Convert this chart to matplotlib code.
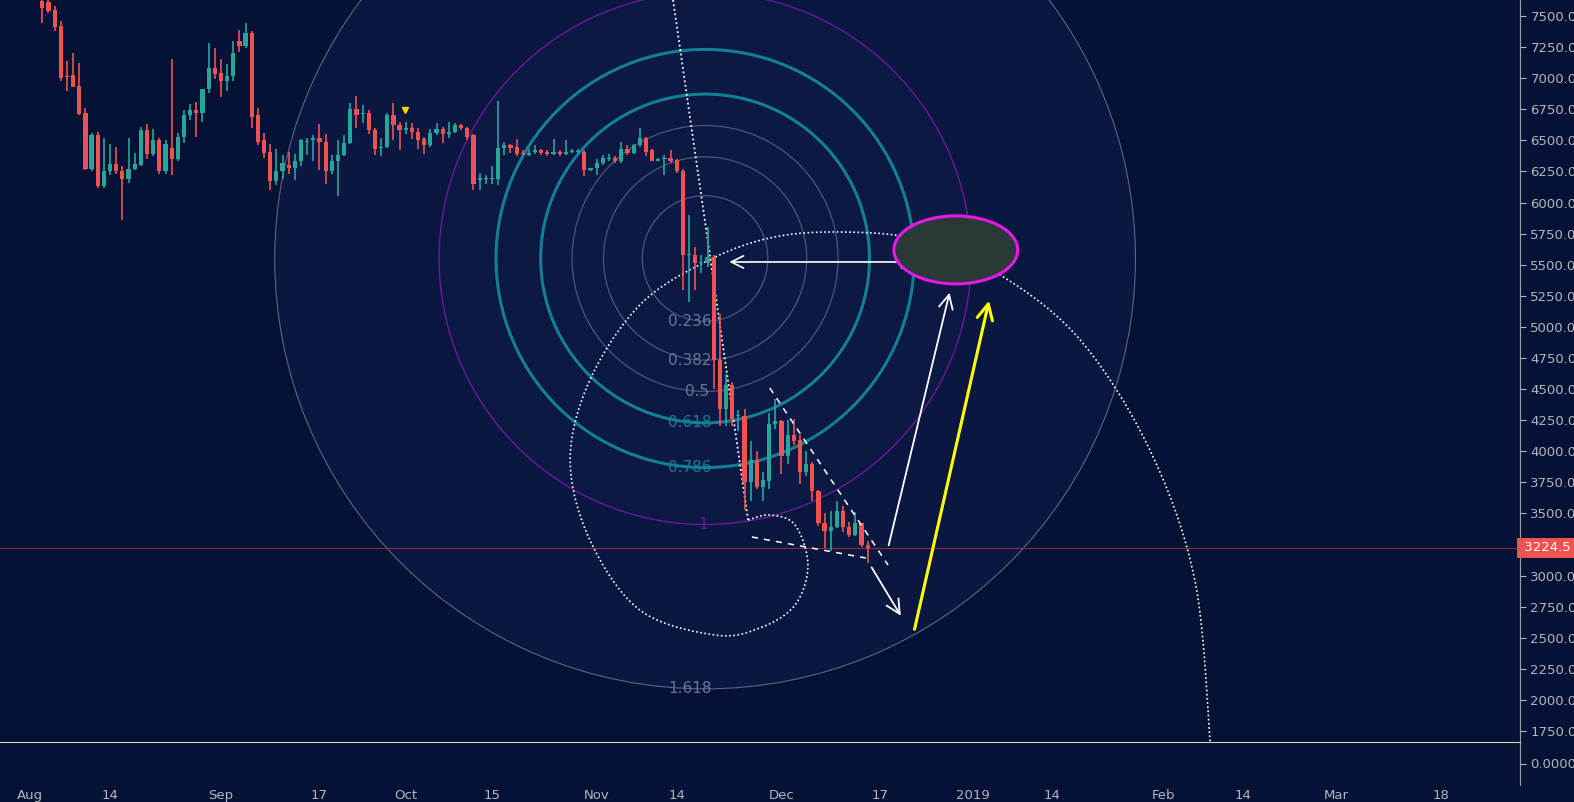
import numpy as np
import matplotlib
matplotlib.use("Agg")
import matplotlib.pyplot as plt
import matplotlib.dates as mdates
from matplotlib.patches import Ellipse
from datetime import datetime, timedelta

# ---------------- data ----------------
ohlc = [
(7620,7640,7440,7560),(7610,7640,7520,7540),(7550,7580,7380,7410),(7420,7460,6980,7000),
(7020,7140,6900,7010),(7025,7200,6930,6930),(6940,7120,6700,6710),(6720,6760,6260,6270),
(6270,6560,6250,6540),(6540,6570,6120,6130),(6130,6520,6120,6250),(6250,6470,6220,6310),
(6310,6450,6230,6250),(6250,6290,5860,6190),(6190,6520,6160,6270),(6270,6400,6260,6310),
(6300,6610,6290,6580),(6580,6630,6350,6390),(6390,6590,6370,6500),(6500,6520,6230,6250),
(6250,6500,6230,6470),(6440,7150,6220,6350),(6350,6560,6330,6530),(6530,6740,6480,6700),
(6700,6790,6660,6740),(6740,6810,6530,6720),(6720,6850,6650,6910),(6910,7280,6880,7080),
(7080,7240,6990,7030),(7040,7150,6850,6980),(6980,7110,6900,7020),(7020,7300,6980,7200),
(7300,7390,7210,7260),(7260,7440,7240,7360),(7360,7380,6600,6690),
(6700,6760,6460,6490),(6500,6560,6360,6400),(6410,6470,6100,6170),(6170,6430,6140,6250),
(6250,6380,6190,6320),(6300,6410,6230,6280),(6280,6390,6180,6330),(6330,6510,6290,6500),
(6490,6520,6380,6490),(6500,6540,6330,6520),(6520,6630,6260,6490),(6490,6550,6150,6250),
(6250,6380,6230,6330),(6330,6500,6050,6380),(6380,6540,6370,6480),(6480,6800,6470,6750),
(6750,6860,6600,6700),(6710,6780,6640,6710),(6720,6740,6550,6580),(6580,6600,6380,6430),
(6440,6520,6370,6450),(6450,6720,6440,6700),(6700,6800,6500,6620),(6620,6650,6420,6580),
(6580,6650,6550,6600),(6600,6640,6510,6570),(6570,6600,6430,6500),(6510,6530,6390,6460),
(6460,6590,6450,6560),(6560,6640,6540,6590),(6590,6610,6480,6550),(6550,6650,6520,6570),
(6570,6640,6560,6620),(6620,6630,6580,6600),(6600,6610,6500,6530),(6540,6550,6100,6150),
(6180,6240,6100,6200),(6190,6220,6150,6200),(6190,6290,6150,6190),(6190,6820,6140,6440),
(6440,6490,6380,6460),(6460,6470,6400,6440),(6450,6510,6370,6390),(6400,6420,6380,6390),
(6380,6430,6370,6400),(6410,6460,6390,6420),(6420,6430,6380,6400),(6410,6420,6370,6390),
(6390,6510,6380,6410),(6410,6420,6370,6390),(6390,6500,6380,6410),(6410,6430,6400,6410),
(6410,6430,6400,6410),(6410,6420,6210,6260),(6260,6280,6250,6280),(6280,6350,6220,6320),
(6320,6380,6300,6360),(6350,6390,6330,6350),(6360,6370,6320,6330),(6330,6490,6320,6430),
(6430,6460,6380,6400),(6400,6470,6390,6460),(6460,6600,6450,6520),(6520,6530,6370,6410),
(6420,6430,6330,6330),(6330,6360,6330,6350),(6350,6380,6220,6360),(6360,6420,6320,6330),
(6340,6350,6240,6250),(6250,6270,5300,5580),(5580,5900,5200,5580),(5580,5640,5300,5510),
(5510,5580,5430,5510),(5510,5800,5480,5560),(5560,5580,4500,4730),(4730,5100,4200,4340),
(4340,4620,4200,4530),(4530,4560,4200,4260),(4280,4330,4160,4280),(4280,4340,3530,3750),
(3750,4080,3600,3930),(3930,4000,3700,3710),(3710,3830,3600,3770),(3760,4310,3700,4220),
(4220,4420,4180,4240),(4240,4250,3820,3960),(3960,4250,3900,4130),(4130,4260,4050,4080),
(4090,4130,3740,3830),(3830,4000,3800,3900),(3900,3910,3600,3680),(3680,3690,3400,3420),
(3420,3500,3220,3360),(3360,3520,3200,3390),(3390,3600,3380,3520),(3520,3560,3350,3390),
(3390,3430,3310,3330),(3330,3510,3320,3420),(3420,3420,3230,3250),(3250,3280,3100,3224.5),
]
last_date = datetime(2018, 12, 15)
last_price = 3224.5

base = datetime(2018, 8, 1)
spiral = [(116.6,3448),(120.1,3488),(124.2,3408),(126.3,3086),(124.2,2764),(118.5,2580),
          (111.2,2523),(99.0,2724),(90.9,3287),(87.7,3930),(90.9,4573),(99.0,5176),
          (109.6,5522),(120.1,5715),(131.5,5763),(144.5,5699),(157.5,5418),(170.5,4895),
          (181.8,4011),(189.1,2966),(191.6,1663)]
fib_center = (109.6, 5550)
fib_edge = (116.6, 3440)
fib_levels = [0.236, 0.382, 0.5, 0.618, 0.786, 1.0, 1.618]
fib_labels = ["0.236", "0.382", "0.5", "0.618", "0.786", "1", "1.618"]

xtick_dates = [datetime(2018,8,1),datetime(2018,8,14),datetime(2018,9,1),datetime(2018,9,17),
               datetime(2018,10,1),datetime(2018,10,15),datetime(2018,11,1),datetime(2018,11,14),
               datetime(2018,12,1),datetime(2018,12,17),datetime(2019,1,1),datetime(2019,1,14),
               datetime(2019,2,1),datetime(2019,2,14),datetime(2019,3,1),datetime(2019,3,18)]
xtick_labels = ["Aug","14","Sep","17","Oct","15","Nov","14","Dec","17","2019","14","Feb","14","Mar","18"]
yticks = [v for v in np.arange(1750, 7501, 250) if v != 3250]

BG = "#061235"
TXT = "#b2b5be"
fig = plt.figure(figsize=(15.74, 8.02), dpi=100, facecolor=BG)
ax = fig.add_axes([0, 60/802, 1520/1574, 742/802], facecolor=BG)
ax2 = fig.add_axes([0, 17/802, 1520/1574, 43/802], facecolor=BG, sharex=ax)

b = mdates.date2num(base)
def d(x): return b + x

ax.set_xlim(b - 4.87, b + 241.9)
ax.set_ylim(1663, 7628)

n = len(ohlc)
dates = [mdates.date2num(last_date - timedelta(days=n - 1 - i)) for i in range(n)]
O = np.array([c[0] for c in ohlc]); H = np.array([c[1] for c in ohlc])
L = np.array([c[2] for c in ohlc]); C = np.array([c[3] for c in ohlc])

fig.canvas.draw()
T = ax.transData
cx, cy = T.transform((d(fib_center[0]), fib_center[1]))
ex, ey = T.transform((d(fib_edge[0]), fib_edge[1]))
R = np.hypot(ex - cx, ey - cy)
pxd = (T.transform((b + 1, 0))[0] - T.transform((b, 0))[0])
pxp = (T.transform((0, 1000))[1] - T.transform((0, 0))[1]) / 1000
styles = {0.236:("#4b5775",0.9),0.382:("#4b5775",0.9),0.5:("#4b5775",0.9),
          0.618:("#137f93",2.2),0.786:("#137f93",2.2),1.0:("#6a1b9a",1.0),1.618:("#5c6680",0.8)}
fills = {1.618:"#0a1740", 1.0:"#0c1944"}
for lv in sorted(fib_levels, reverse=True):
    r = R * lv
    col, lw = styles[lv]
    if lv in fills:
        ax.add_patch(Ellipse((d(fib_center[0]), fib_center[1]), 2*r/pxd, 2*r/pxp,
                             facecolor=fills[lv], edgecolor="none", zorder=0))
    ax.add_patch(Ellipse((d(fib_center[0]), fib_center[1]), 2*r/pxd, 2*r/pxp,
                         facecolor="none", edgecolor=col, lw=lw, zorder=1))
lab_col = {0.618:"#177f93",0.786:"#177f93",1.0:"#6a1b9a"}
for lv, lab in zip(fib_levels, fib_labels):
    yy = fib_center[1] - R*lv/pxp
    xx = d(fib_center[0]) - (0.3 if lab == "1" else 2.5 if lab != "0.5" else 1.3)
    ax.text(xx, yy, lab, color=lab_col.get(lv, "#6b7590"),
            fontsize=11, ha="center", va="center", zorder=2)

ax.plot([d(104.4), d(116.6)], [7628, 3440], ls=(0, (1, 1.5)), color="white", lw=1.3, zorder=3)

sx = np.array([s[0] for s in spiral]); sy = np.array([s[1] for s in spiral])
tt = np.linspace(0, len(sx) - 1, 400)
def cr(p):
    out = []
    for u in tt:
        i = min(int(u), len(p) - 2); f = u - i
        p0 = p[max(i-1, 0)]; p1 = p[i]; p2 = p[i+1]; p3 = p[min(i+2, len(p)-1)]
        out.append(0.5*((2*p1) + (-p0+p2)*f + (2*p0-5*p1+4*p2-p3)*f*f + (-p0+3*p1-3*p2+p3)*f**3))
    return np.array(out)
ax.plot(b + cr(sx), cr(sy), ls=(0, (1, 1.5)), color="white", lw=1.2, zorder=3)

up = C >= O
colors = np.where(up, "#26a69a", "#ef5350")
ax.vlines(dates, L, H, colors=colors, lw=1.2, zorder=4)
ax.bar(dates, np.maximum(np.abs(C - O), 8), bottom=np.minimum(O, C), width=0.68,
       color=colors, zorder=5)

ax.plot([d(120.1), d(139.3)], [4509, 3086], ls=(0, (4, 4)), color="white", lw=1.1, zorder=6)
ax.plot([d(117.2), d(135.7)], [3311, 3142], ls=(0, (4, 4)), color="white", lw=1.1, zorder=6)

ax.annotate("", xy=(d(113.1), 5522), xytext=(d(144.2), 5522),
            arrowprops=dict(arrowstyle="<->", color="white", lw=1.2, mutation_scale=22), zorder=7)
ax.annotate("", xy=(d(149.4), 5297), xytext=(d(139.3), 3223),
            arrowprops=dict(arrowstyle="->", color="white", lw=1.3, mutation_scale=25), zorder=7)
ax.annotate("", xy=(d(141.6), 2660), xytext=(d(136.4), 3086),
            arrowprops=dict(arrowstyle="->", color="white", lw=1.3, mutation_scale=25), zorder=7)
ax.annotate("", xy=(d(155.8), 5233), xytext=(d(143.5), 2547),
            arrowprops=dict(arrowstyle="->", color="#ffff00", lw=2.2, mutation_scale=28), zorder=7)

ax.add_patch(Ellipse((d(150.3), 5619), 20.1, 547, facecolor="#2b3838", edgecolor="#e619e6",
                     lw=2.2, zorder=8))

ax.plot([d(60.9)], [6740], marker="v", color="#ffd600", ms=5, zorder=8)

ax.axhline(last_price, color="#8e2a3c", lw=0.8, zorder=2)
ax.text(1.0, last_price, " 3224.5 ", transform=ax.get_yaxis_transform(), color="white",
        fontsize=9.5, va="center", ha="left",
        bbox=dict(boxstyle="square,pad=0.25", fc="#ef5350", ec="none"), clip_on=False, zorder=10)

for a in (ax, ax2):
    for s in a.spines.values():
        s.set_visible(False)
    a.yaxis.tick_right()
    a.tick_params(axis="y", colors=TXT, labelsize=9.5, length=4, color=TXT)
ax.spines["right"].set_visible(True); ax.spines["right"].set_color("#9a9da6")
ax2.spines["right"].set_visible(True); ax2.spines["right"].set_color("#9a9da6")
ax2.spines["top"].set_visible(True); ax2.spines["top"].set_color("#d8d8b0")
ax.set_yticks(yticks)
ax.set_yticklabels([f"{v:.1f}" for v in yticks])
ax.tick_params(axis="x", bottom=False, labelbottom=False)
ax2.set_ylim(-1, 1)
ax2.set_yticks([0]); ax2.set_yticklabels(["0.0000"])
ax2.set_xticks([mdates.date2num(x) for x in xtick_dates])
ax2.set_xticklabels(xtick_labels)
ax2.tick_params(axis="x", colors=TXT, labelsize=9.5, length=0, pad=3)

fig.savefig("out.png", dpi=100, facecolor=BG)
